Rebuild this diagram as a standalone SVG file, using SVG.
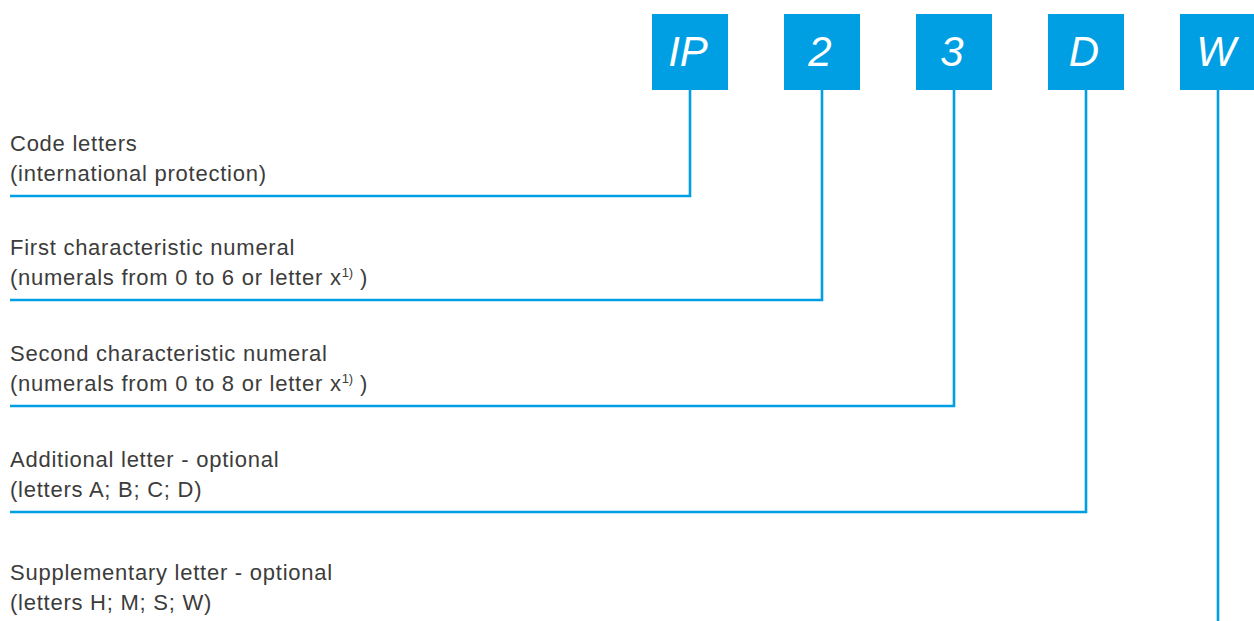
<svg xmlns="http://www.w3.org/2000/svg" width="1254" height="621" viewBox="0 0 1254 621">
<style>
.box{fill:#009FE3}
.code{font-family:"Liberation Sans",Arial,sans-serif;font-style:italic;font-size:42px;fill:#fff;text-anchor:middle}
.lbl{font-family:"Liberation Sans",Arial,sans-serif;font-size:22px;fill:#3c3c3b;letter-spacing:0.75px}
.sup{font-size:13px;letter-spacing:0}
.conn{fill:none;stroke:#009FE3;stroke-width:2.6}
</style>
<rect width="1254" height="621" fill="#fff"/>
<g id="node-IP"><rect class="box" x="652" y="14" width="76" height="76"/><text class="code" x="688" y="66">IP</text></g>
<g id="node-2"><rect class="box" x="784" y="14" width="76" height="76"/><text class="code" x="820" y="66">2</text></g>
<g id="node-3"><rect class="box" x="916" y="14" width="76" height="76"/><text class="code" x="952" y="66">3</text></g>
<g id="node-D"><rect class="box" x="1048" y="14" width="76" height="76"/><text class="code" x="1084" y="66">D</text></g>
<g id="node-W"><rect class="box" x="1180" y="14" width="76" height="76"/><text class="code" x="1216" y="66">W</text></g>
<g id="label-code"><text class="lbl" x="10" y="151">Code letters</text><text class="lbl" x="10" y="181">(international protection)</text></g>
<g id="label-first"><text class="lbl" x="10" y="255">First characteristic numeral</text><text class="lbl" x="10" y="285">(numerals from 0 to 6 or letter x<tspan class="sup" dy="-8">1)</tspan><tspan dy="8"> )</tspan></text></g>
<g id="label-second"><text class="lbl" x="10" y="361">Second characteristic numeral</text><text class="lbl" x="10" y="391">(numerals from 0 to 8 or letter x<tspan class="sup" dy="-8">1)</tspan><tspan dy="8"> )</tspan></text></g>
<g id="label-additional"><text class="lbl" x="10" y="467">Additional letter - optional</text><text class="lbl" x="10" y="497">(letters A; B; C; D)</text></g>
<g id="label-supplementary"><text class="lbl" x="10" y="580">Supplementary letter - optional</text><text class="lbl" x="10" y="610">(letters H; M; S; W)</text></g>
<g id="connectors">
<polyline class="conn" points="690,90 690,196 10,196"/>
<polyline class="conn" points="822,90 822,300 10,300"/>
<polyline class="conn" points="954,90 954,406 10,406"/>
<polyline class="conn" points="1086,90 1086,512 10,512"/>
<polyline class="conn" points="1218,90 1218,621"/>
</g>
</svg>
